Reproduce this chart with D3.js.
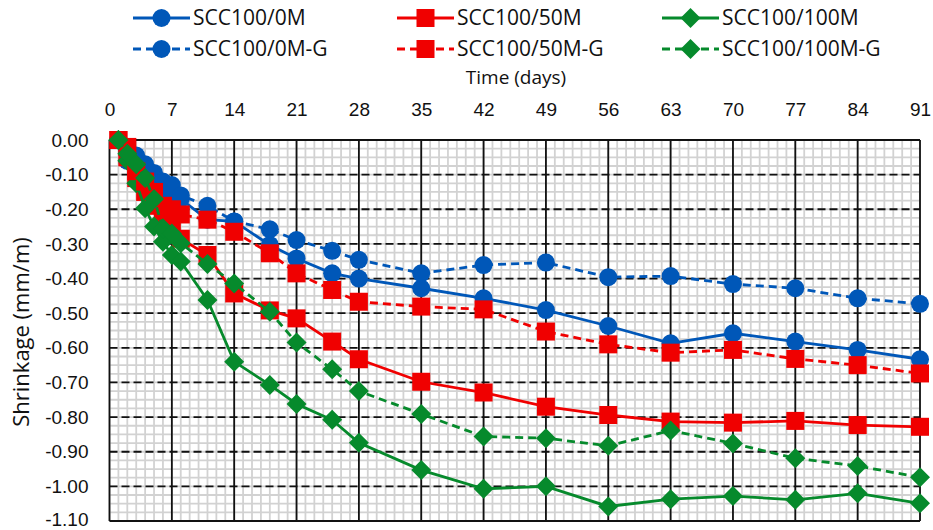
<!DOCTYPE html>
<html>
<head>
<meta charset="utf-8">
<script src="https://cdn.jsdelivr.net/npm/d3@7"></script>
<style>
  html, body { margin: 0; padding: 0; background: #fff; }
  svg { display: block; font-family: "Open Sans", "Noto Sans", sans-serif; }
</style>
</head>
<body>
<svg id="chart" width="933" height="530"></svg>
<script>
// Measurement days
const days = [1, 2, 3, 4, 5, 6, 7, 8, 11, 14, 18, 21, 25, 28, 35, 42, 49, 56, 63, 70, 77, 84, 91];

// Shrinkage (mm/m) per series
const scc0M    = [0, -0.06, -0.07, -0.085, -0.11, -0.14, -0.16, -0.17, -0.23, -0.235, -0.303, -0.342, -0.385, -0.40, -0.428, -0.457, -0.491, -0.537, -0.587, -0.558, -0.582, -0.606, -0.633];
const scc50M   = [0, -0.05, -0.11, -0.15, -0.19, -0.22, -0.25, -0.285, -0.332, -0.443, -0.492, -0.515, -0.582, -0.633, -0.698, -0.729, -0.770, -0.794, -0.813, -0.816, -0.811, -0.823, -0.828];
const scc100M  = [0, -0.06, -0.125, -0.197, -0.25, -0.294, -0.332, -0.351, -0.462, -0.640, -0.707, -0.762, -0.808, -0.874, -0.953, -1.007, -1.000, -1.058, -1.037, -1.028, -1.039, -1.020, -1.049];
const scc0MG   = [0, -0.03, -0.045, -0.07, -0.095, -0.12, -0.13, -0.16, -0.19, -0.235, -0.258, -0.289, -0.320, -0.346, -0.385, -0.361, -0.354, -0.396, -0.393, -0.416, -0.428, -0.457, -0.473];
const scc50MG  = [0, -0.02, -0.09, -0.12, -0.15, -0.19, -0.20, -0.215, -0.23, -0.265, -0.327, -0.385, -0.433, -0.467, -0.481, -0.489, -0.553, -0.590, -0.614, -0.606, -0.632, -0.650, -0.674];
const scc100MG = [0, -0.04, -0.07, -0.11, -0.17, -0.255, -0.27, -0.298, -0.358, -0.414, -0.496, -0.585, -0.662, -0.725, -0.791, -0.856, -0.861, -0.883, -0.839, -0.876, -0.919, -0.941, -0.974];

// Axis ticks
const xTicks = [0, 7, 14, 21, 28, 35, 42, 49, 56, 63, 70, 77, 84, 91];
const yTicks = [0, -0.1, -0.2, -0.3, -0.4, -0.5, -0.6, -0.7, -0.8, -0.9, -1.0, -1.1];

const seriesNames = ["SCC100/0M", "SCC100/50M", "SCC100/100M", "SCC100/0M-G", "SCC100/50M-G", "SCC100/100M-G"];

const BLUE = "#0057b8", RED = "#f00000", GREEN = "#068a2c";

const series = [
  { name: seriesNames[0], values: scc0M,    color: BLUE,  shape: "circle",  dashed: false },
  { name: seriesNames[1], values: scc50M,   color: RED,   shape: "square",  dashed: false },
  { name: seriesNames[2], values: scc100M,  color: GREEN, shape: "diamond", dashed: false },
  { name: seriesNames[3], values: scc0MG,   color: BLUE,  shape: "circle",  dashed: true },
  { name: seriesNames[4], values: scc50MG,  color: RED,   shape: "square",  dashed: true },
  { name: seriesNames[5], values: scc100MG, color: GREEN, shape: "diamond", dashed: true }
];

const svg = d3.select("#chart");
const plotL = 109.5, plotR = 920, plotT = 140, plotB = 521;

const x = d3.scaleLinear().domain([0, 91]).range([plotL, plotR]);
const y = d3.scaleLinear().domain([0, -1.1]).range([plotT, plotB]);

// Minor grid: every day and every 0.025 mm/m
const grid = svg.append("g");
grid.selectAll("line.vminor").data(d3.range(0, 92, 1)).join("line")
  .attr("x1", d => x(d)).attr("x2", d => x(d)).attr("y1", plotT).attr("y2", plotB)
  .attr("stroke", "#d2d2d2").attr("stroke-width", 1.8);
grid.selectAll("line.hminor").data(d3.range(0, 45).map(i => -i * 0.025)).join("line")
  .attr("x1", plotL).attr("x2", plotR).attr("y1", d => y(d)).attr("y2", d => y(d))
  .attr("stroke", "#d2d2d2").attr("stroke-width", 1.8);

// Major grid
grid.selectAll("line.hmajor").data(yTicks.slice(1, -1)).join("line")
  .attr("x1", plotL).attr("x2", plotR).attr("y1", d => y(d)).attr("y2", d => y(d))
  .attr("stroke", "#111").attr("stroke-width", 1.8).attr("stroke-dasharray", "8,4");
grid.selectAll("line.vmajor").data(xTicks).join("line")
  .attr("x1", d => x(d)).attr("x2", d => x(d)).attr("y1", plotT).attr("y2", plotB)
  .attr("stroke", "#111").attr("stroke-width", 1.8);
grid.append("line").attr("x1", plotL).attr("x2", plotR).attr("y1", y(0)).attr("y2", y(0))
  .attr("stroke", "#111").attr("stroke-width", 1.8);
grid.append("line").attr("x1", plotL).attr("x2", plotR).attr("y1", y(-1.1)).attr("y2", y(-1.1))
  .attr("stroke", "#111").attr("stroke-width", 2);

// Axes
const xAxis = svg.append("g").attr("transform", `translate(0,${plotT})`)
  .call(d3.axisTop(x).tickValues(xTicks).tickSize(0).tickPadding(24).tickFormat(d3.format("d")));
xAxis.select(".domain").remove();
xAxis.selectAll("text").attr("font-size", 19).attr("fill", "#111").attr("font-family", null);

const yAxis = svg.append("g").attr("transform", `translate(${plotL},0)`)
  .call(d3.axisLeft(y).tickValues(yTicks).tickSize(0).tickPadding(21).tickFormat(d => d.toFixed(2)));
yAxis.select(".domain").remove();
yAxis.selectAll("text").attr("font-size", 19).attr("fill", "#111").attr("font-family", null);
// keep the lowest label inside the canvas
yAxis.selectAll("text").filter(d => d === -1.1).attr("dy", "0.22em");

svg.append("text").attr("x", 516).attr("y", 84).attr("text-anchor", "middle")
  .attr("font-size", 19).attr("fill", "#111").text("Time (days)");
svg.append("text").attr("transform", "translate(29,332) rotate(-90)").attr("text-anchor", "middle")
  .attr("font-size", 22).attr("fill", "#111").text("Shrinkage (mm/m)");

// Marker drawing
function marker(sel, shape, color) {
  if (shape === "circle") {
    sel.append("circle").attr("r", 9).attr("fill", color);
  } else if (shape === "square") {
    sel.append("rect").attr("x", -9).attr("y", -9).attr("width", 18).attr("height", 18).attr("fill", color);
  } else {
    sel.append("path").attr("d", "M0,-10L10,0L0,10L-10,0Z").attr("fill", color);
  }
}

const line = d3.line().x((d, i) => x(days[i])).y(d => y(d));

series.forEach(s => {
  const g = svg.append("g");
  g.append("path").attr("d", line(s.values)).attr("fill", "none")
    .attr("stroke", s.color).attr("stroke-width", 2.8)
    .attr("stroke-dasharray", s.dashed ? "8,5" : null);
  g.selectAll("g.m").data(s.values).join("g")
    .attr("transform", (d, i) => `translate(${x(days[i])},${y(d)})`)
    .each(function () { marker(d3.select(this), s.shape, s.color); });
});

// Legend
const legendCols = [133, 397, 662];
const legendRows = [18, 49];
series.forEach((s, i) => {
  const lx = legendCols[i % 3], ly = legendRows[Math.floor(i / 3)];
  const g = svg.append("g").attr("transform", `translate(${lx},${ly})`);
  g.append("line").attr("x1", 0).attr("x2", 57).attr("y1", 0).attr("y2", 0)
    .attr("stroke", s.color).attr("stroke-width", 2.8)
    .attr("stroke-dasharray", s.dashed ? "8,5" : null);
  marker(g.append("g").attr("transform", "translate(28.5,0)"), s.shape, s.color);
  g.append("text").attr("x", 60).attr("y", 7).attr("font-size", 21).attr("fill", "#111").text(s.name);
});
</script>
</body>
</html>
